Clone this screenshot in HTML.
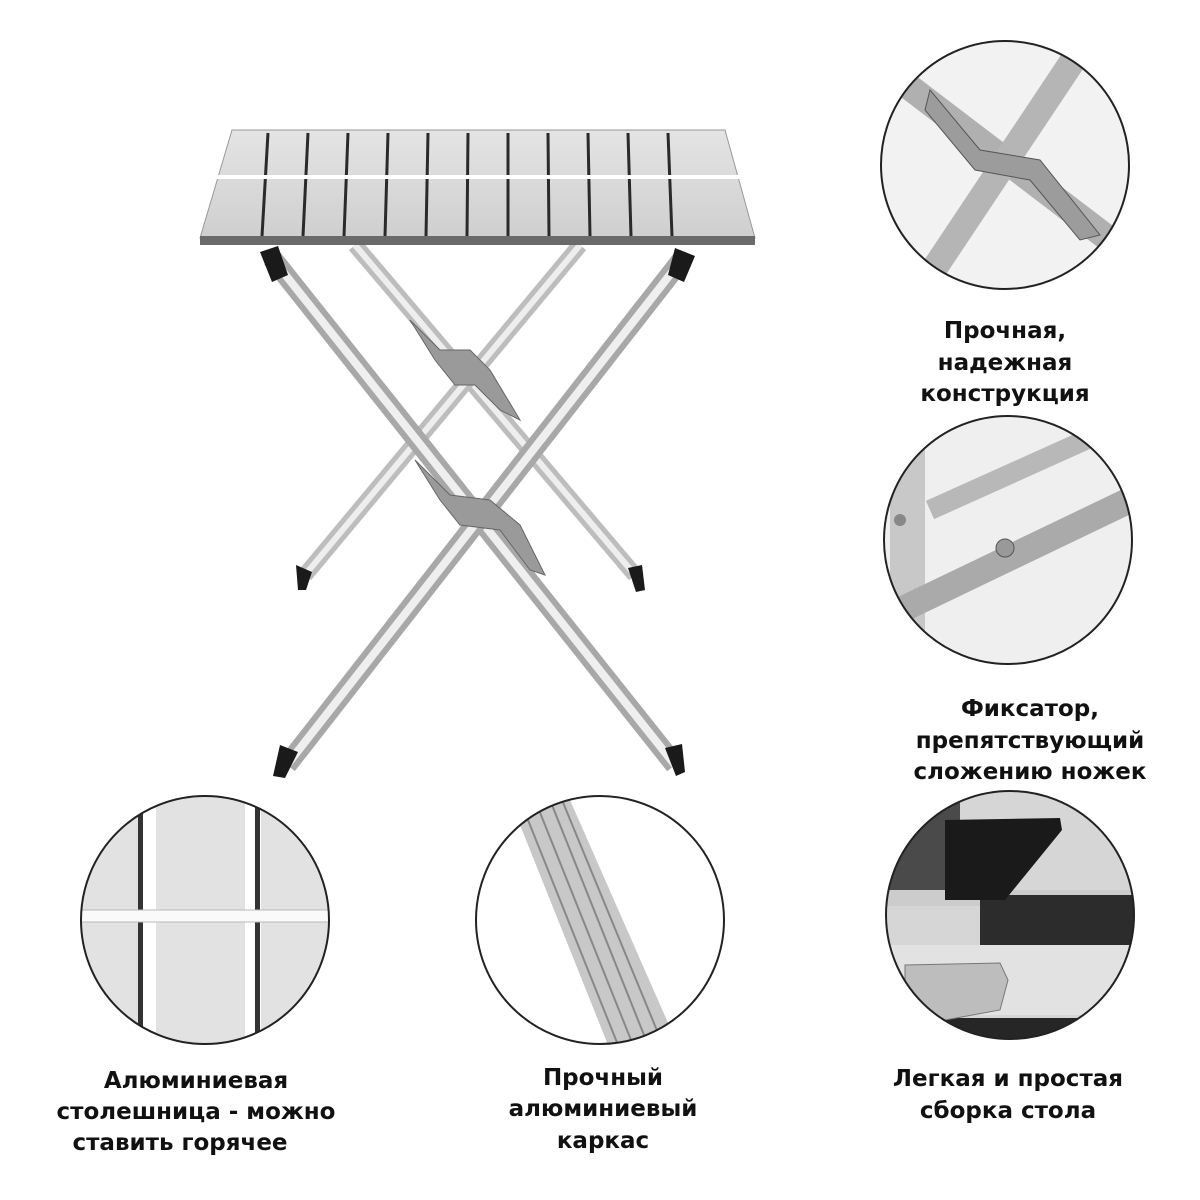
<!DOCTYPE html>
<html><head><meta charset="utf-8"><style>
html,body{margin:0;padding:0;background:#fff;width:1200px;height:1200px;overflow:hidden}
svg{display:block}
text{font-family:"DejaVu Sans","Liberation Sans",sans-serif;font-weight:bold;font-size:23px;fill:#111;text-anchor:middle}
</style></head><body>
<svg width="1200" height="1200" viewBox="0 0 1200 1200" xmlns="http://www.w3.org/2000/svg">
<defs>
<linearGradient id="top" x1="0" y1="0" x2="0" y2="1"><stop offset="0" stop-color="#e4e4e4"/><stop offset="1" stop-color="#cfcfcf"/></linearGradient>
<clipPath id="c1"><circle cx="1005" cy="165" r="124"/></clipPath>
<clipPath id="c2"><circle cx="1008" cy="540" r="124"/></clipPath>
<clipPath id="c3"><circle cx="1010" cy="915" r="124"/></clipPath>
<clipPath id="c4"><circle cx="205" cy="920" r="124"/></clipPath>
<clipPath id="c5"><circle cx="600" cy="920" r="124"/></clipPath>
</defs>

<g stroke-linecap="butt">
<line x1="355" y1="245" x2="635" y2="575" stroke="#bdbdbd" stroke-width="16"/>
<line x1="355" y1="245" x2="635" y2="575" stroke="#eee" stroke-width="6"/>
<line x1="580" y1="245" x2="305" y2="575" stroke="#bdbdbd" stroke-width="16"/>
<line x1="580" y1="245" x2="305" y2="575" stroke="#eee" stroke-width="6"/>
<line x1="272" y1="258" x2="675" y2="765" stroke="#a8a8a8" stroke-width="20"/>
<line x1="272" y1="258" x2="675" y2="765" stroke="#efefef" stroke-width="8"/>
<line x1="683" y1="258" x2="287" y2="765" stroke="#a8a8a8" stroke-width="20"/>
<line x1="683" y1="258" x2="287" y2="765" stroke="#efefef" stroke-width="8"/>
</g>
<path d="M410 320 L440 350 L470 350 L490 370 L520 420 L500 410 L475 385 L455 385 L435 360 Z" fill="#9a9a9a" stroke="#666"/>
<path d="M415 460 L450 495 L490 500 L520 525 L545 575 L530 570 L500 530 L460 525 L440 500 Z" fill="#9a9a9a" stroke="#666"/>
<g fill="#1a1a1a">
<path d="M260 252 L278 246 L288 275 L272 282 Z"/>
<path d="M675 248 L695 256 L684 282 L668 275 Z"/>
<path d="M296 565 L312 572 L306 590 L298 590 Z"/>
<path d="M628 568 L642 565 L645 590 L636 592 Z"/>
<path d="M280 745 L298 752 L285 778 L273 776 Z"/>
<path d="M665 748 L682 744 L685 772 L676 776 Z"/>
</g>

<path d="M232 130 L725 130 L755 238 L200 238 Z" fill="url(#top)" stroke="#999"/>
<rect x="200" y="236" width="555" height="9" fill="#6a6a6a"/>
<g stroke="#2a2a2a" stroke-width="3">
<line x1="268" y1="133" x2="262" y2="236"/>
<line x1="308" y1="133" x2="303" y2="236"/>
<line x1="348" y1="133" x2="344" y2="236"/>
<line x1="388" y1="133" x2="385" y2="236"/>
<line x1="428" y1="133" x2="426" y2="236"/>
<line x1="468" y1="133" x2="467" y2="236"/>
<line x1="508" y1="133" x2="508" y2="236"/>
<line x1="548" y1="133" x2="549" y2="236"/>
<line x1="588" y1="133" x2="590" y2="236"/>
<line x1="628" y1="133" x2="631" y2="236"/>
<line x1="668" y1="133" x2="672" y2="236"/>
</g>
<line x1="214" y1="177" x2="740" y2="177" stroke="#fff" stroke-width="4"/>

<g clip-path="url(#c1)">
<rect x="870" y="30" width="270" height="270" fill="#f2f2f2"/>
<line x1="900" y1="80" x2="1110" y2="240" stroke="#b0b0b0" stroke-width="26"/>
<line x1="1080" y1="50" x2="920" y2="290" stroke="#b5b5b5" stroke-width="26"/>
<path d="M930 90 L980 150 L1040 160 L1100 235 L1080 240 L1030 180 L975 170 L925 110 Z" fill="#9c9c9c" stroke="#555"/>
</g>
<circle cx="1005" cy="165" r="124" fill="none" stroke="#222" stroke-width="2"/>

<g clip-path="url(#c2)">
<rect x="880" y="410" width="260" height="260" fill="#efefef"/>
<rect x="890" y="410" width="35" height="260" fill="#c8c8c8"/>
<line x1="930" y1="510" x2="1130" y2="420" stroke="#b8b8b8" stroke-width="20"/>
<line x1="880" y1="620" x2="1130" y2="500" stroke="#aaa" stroke-width="26"/>
<circle cx="900" cy="520" r="6" fill="#888"/>
<circle cx="1005" cy="548" r="9" fill="#999" stroke="#555"/>
</g>
<circle cx="1008" cy="540" r="124" fill="none" stroke="#222" stroke-width="2"/>

<g clip-path="url(#c3)">
<rect x="880" y="790" width="260" height="260" fill="#d6d6d6"/>
<rect x="880" y="790" width="80" height="110" fill="#4a4a4a"/>
<rect x="880" y="890" width="260" height="16" fill="#ccc"/>
<rect x="980" y="895" width="160" height="50" fill="#2c2c2c"/>
<rect x="880" y="945" width="260" height="70" fill="#e2e2e2"/>
<rect x="880" y="1018" width="260" height="40" fill="#262626"/>
<path d="M945 820 L1060 818 L1062 830 L1005 900 L945 900 Z" fill="#1a1a1a"/>
<path d="M905 965 L1000 963 L1008 980 L1000 1010 L945 1020 L905 1000 Z" fill="#bdbdbd" stroke="#777"/>
</g>
<circle cx="1010" cy="915" r="124" fill="none" stroke="#222" stroke-width="2"/>

<g clip-path="url(#c4)">
<rect x="75" y="790" width="260" height="260" fill="#e2e2e2"/>
<rect x="140" y="800" width="16" height="240" fill="#fff"/>
<rect x="245" y="800" width="16" height="240" fill="#fff"/>
<rect x="138" y="800" width="5" height="240" fill="#333"/>
<rect x="255" y="800" width="5" height="240" fill="#333"/>
<rect x="75" y="910" width="260" height="12" fill="#fafafa" stroke="#bbb"/>
</g>
<circle cx="205" cy="920" r="124" fill="none" stroke="#222" stroke-width="2"/>

<g clip-path="url(#c5)">
<rect x="470" y="790" width="260" height="260" fill="#fff"/>
<path d="M510 800 L570 800 L680 1050 L610 1050 Z" fill="#c8c8c8"/>
<g stroke="#888" stroke-width="2">
<line x1="520" y1="800" x2="620" y2="1050"/>
<line x1="535" y1="800" x2="635" y2="1050"/>
<line x1="550" y1="800" x2="650" y2="1050"/>
<line x1="562" y1="800" x2="665" y2="1050"/>
</g>
</g>
<circle cx="600" cy="920" r="124" fill="none" stroke="#222" stroke-width="2"/>

<text x="1005" y="338">Прочная,</text>
<text x="1005" y="370">надежная</text>
<text x="1005" y="401">конструкция</text>
<text x="1030" y="716">Фиксатор,</text>
<text x="1030" y="748">препятствующий</text>
<text x="1030" y="779">сложению ножек</text>
<text x="1008" y="1086">Легкая и простая</text>
<text x="1008" y="1118">сборка стола</text>
<text x="196" y="1088">Алюминиевая</text>
<text x="196" y="1119">столешница - можно</text>
<text x="180" y="1150">ставить горячее</text>
<text x="603" y="1085">Прочный</text>
<text x="603" y="1116">алюминиевый</text>
<text x="603" y="1148">каркас</text>
</svg>
</body></html>
